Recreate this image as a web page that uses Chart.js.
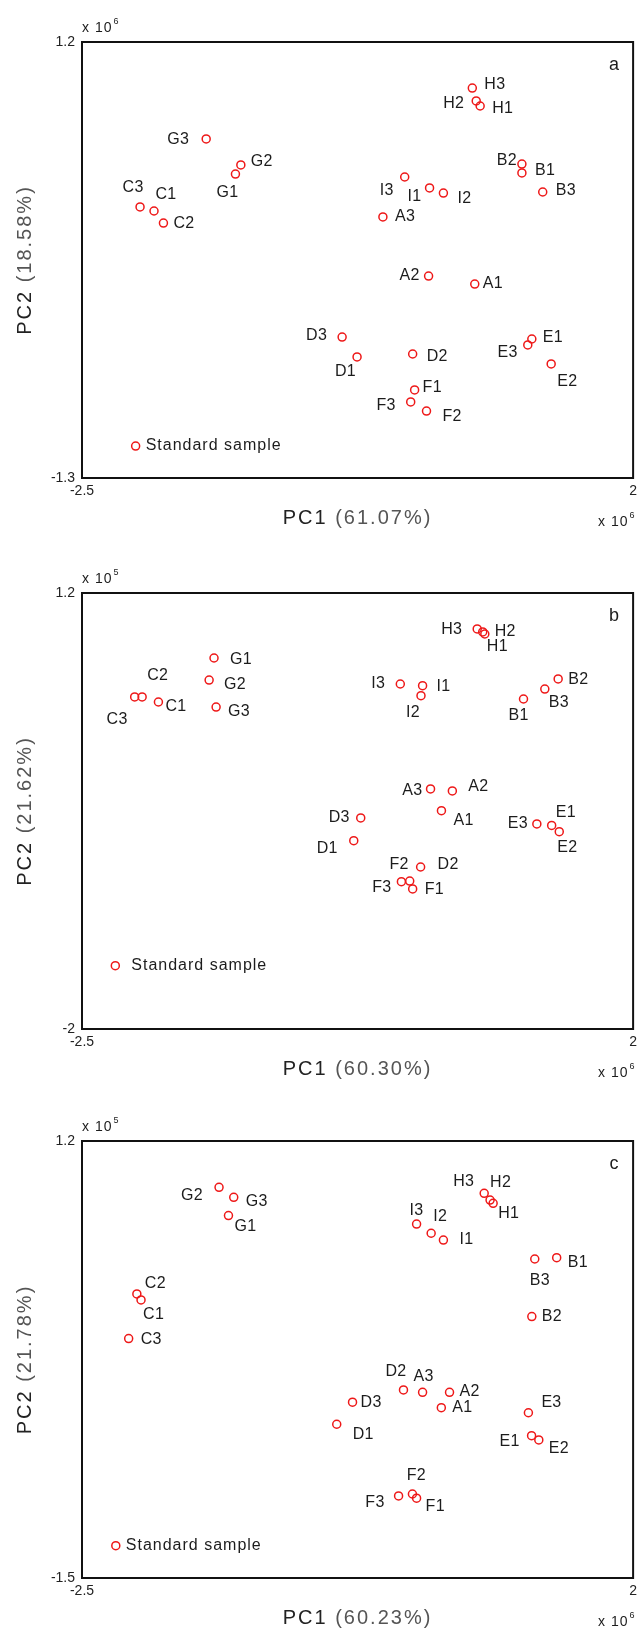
<!DOCTYPE html>
<html>
<head>
<meta charset="utf-8">
<script src="https://cdn.jsdelivr.net/npm/chart.js@4/dist/chart.umd.min.js"></script>
<style>
  html, body { margin: 0; padding: 0; background: #ffffff; }
  #wrap { position: relative; width: 642px; height: 1633px; background: #ffffff; }
  canvas { position: absolute; left: 0; }
</style>
</head>
<body>
<div id="wrap">
  <canvas id="pa" width="642" height="545" style="top:0px"></canvas>
  <canvas id="pb" width="642" height="550" style="top:545px"></canvas>
  <canvas id="pc" width="642" height="538" style="top:1095px"></canvas>
</div>
<script>
// ---------------- data ----------------
const sampleNames = ['A1','A2','A3','B1','B2','B3','C1','C2','C3','D1','D2','D3',
  'E1','E2','E3','F1','F2','F3','G1','G2','G3','H1','H2','H3','I1','I2','I3','Standard sample'];

// panel a  (PC1 x10^6, PC2 x10^6)
const pc1A = [0.707,0.330,-0.043, 1.092,1.092,1.262, -1.912,-1.835,-2.026, -0.254,0.200,-0.376,
  1.173,1.331,1.140, 0.216,0.313,0.184, -1.247,-1.203,-1.486, 0.751,0.719,0.687, 0.338,0.451,0.135, -2.062];
const pc2A = [-0.188,-0.142,0.197, 0.449,0.500,0.340, 0.231,0.162,0.254, -0.606,-0.589,-0.492,
  -0.503,-0.646,-0.537, -0.795,-0.916,-0.864, 0.443,0.495,0.644, 0.833,0.862,0.936, 0.363,0.334,0.426, -1.117];

// panel b
const pc1B = [0.435,0.524,0.346, 1.105,1.388,1.279, -1.876,-2.009,-2.070, -0.281,0.265,-0.224,
  1.335,1.397,1.214, 0.200,0.176,0.108, -1.422,-1.462,-1.405, 0.789,0.772,0.727, 0.281,0.268,0.099, -2.228];
const pc2B = [-0.398,-0.253,-0.238, 0.422,0.569,0.495, 0.400,0.437,0.437, -0.618,-0.811,-0.451,
  -0.506,-0.552,-0.495, -0.972,-0.914,-0.919, 0.723,0.561,0.363, 0.899,0.914,0.936, 0.520,0.446,0.532, -1.535];

// panel c
const pc1C = [0.434,0.501,0.281, 1.376,1.173,1.197, -2.018,-2.052,-2.119, -0.420,0.125,-0.291,
  1.171,1.230,1.145, 0.232,0.198,0.085, -1.304,-1.381,-1.261, 0.857,0.832,0.784, 0.451,0.351,0.232, -2.224];
const pc2C = [-0.448,-0.353,-0.353, 0.479,0.115,0.471, 0.218,0.255,-0.021, -0.550,-0.338,-0.414,
  -0.621,-0.647,-0.479, -1.007,-0.981,-0.993, 0.739,0.914,0.852, 0.815,0.835,0.877, 0.588,0.630,0.687, -1.300];

// tick values / labels
const xTickValues = [-2.5, 2];
const xTickLabels = ['-2.5', '2'];
const yTickValuesA = [-1.3, 1.2];  const yTickLabelsA = ['-1.3', '1.2'];
const yTickValuesB = [-2, 1.2];    const yTickLabelsB = ['-2', '1.2'];
const yTickValuesC = [-1.5, 1.2];  const yTickLabelsC = ['-1.5', '1.2'];

const xTitles = ['PC1 ', 'PC1 ', 'PC1 '];
const xPercents = ['(61.07%)', '(60.30%)', '(60.23%)'];
const yTitles = ['PC2 ', 'PC2 ', 'PC2 '];
const yPercents = ['(18.58%)', '(21.62%)', '(21.78%)'];
const panelLetters = ['a', 'b', 'c'];
const yExponents = ['6', '5', '5'];
const xExponent = '6';

// ---------------- label placement (annotation layout) ----------------
const placeA = {
  A1:[8,0,'left'], A2:[-9,0,'right'], A3:[12,0,'left'],
  B1:[13,-2,'left'], B2:[-5,-3,'right'], B3:[13,-1,'left'],
  C1:[12,-16,'center'], C2:[10,1,'left'], C3:[-7,-19,'center'],
  D1:[-1,15,'right'], D2:[14,3,'left'], D3:[-15,-1,'right'],
  E1:[11,-1,'left'], E2:[6,18,'left'], E3:[-10,8,'right'],
  F1:[8,-2,'left'], F2:[16,6,'left'], F3:[-15,4,'right'],
  G1:[3,19,'right'], G2:[10,-3,'left'], G3:[-17,1,'right'],
  H1:[12,3,'left'], H2:[-12,3,'right'], H3:[12,-3,'left'],
  I1:[-8,9,'right'], I2:[14,6,'left'], I3:[-11,14,'right'],
  'Standard sample':[10,0,'left']
};
const placeB = {
  A1:[12,10,'left'], A2:[16,-4,'left'], A3:[-8,2,'right'],
  B1:[-5,17,'center'], B2:[10,1,'left'], B3:[4,14,'left'],
  C1:[7,5,'left'], C2:[5,-21,'left'], C3:[-7,23,'right'],
  D1:[-16,8,'right'], D2:[17,-2,'left'], D3:[-11,0,'right'],
  E1:[4,-13,'left'], E2:[-2,16,'left'], E3:[-9,0,'right'],
  F1:[12,1,'left'], F2:[-1,-16,'right'], F3:[-10,6,'right'],
  G1:[16,2,'left'], G2:[15,5,'left'], G3:[12,5,'left'],
  H1:[2,13,'left'], H2:[12,0,'left'], H3:[-15,1,'right'],
  I1:[14,1,'left'], I2:[-8,17,'center'], I3:[-15,0,'right'],
  'Standard sample':[16,0,'left']
};
const placeC = {
  A1:[11,0,'left'], A2:[10,-1,'left'], A3:[1,-16,'center'],
  B1:[11,5,'left'], B2:[10,0,'left'], B3:[5,22,'center'],
  C1:[2,15,'left'], C2:[8,-10,'left'], C3:[12,1,'left'],
  D1:[16,10,'left'], D2:[3,-18,'right'], D3:[8,0,'left'],
  E1:[-12,6,'right'], E2:[10,9,'left'], E3:[13,-10,'left'],
  F1:[9,8,'left'], F2:[4,-18,'center'], F3:[-14,7,'right'],
  G1:[6,11,'left'], G2:[-16,8,'right'], G3:[12,4,'left'],
  H1:[5,10,'left'], H2:[0,-17,'left'], H3:[-10,-12,'right'],
  I1:[16,0,'left'], I2:[9,-17,'center'], I3:[0,-13,'center'],
  'Standard sample':[10,0,'left']
};

// ---------------- drawing ----------------
const FONT = '"Liberation Sans", Arial, Helvetica, sans-serif';
Chart.defaults.font.family = FONT;
const RED = 'rgb(238,24,24)';
const INK = '#1c1c1c';

function setSpacing(ctx, px) { if ('letterSpacing' in ctx) ctx.letterSpacing = px + 'px'; }

const decorPlugin = {
  id: 'decor',
  afterDraw(chart) {
    const o = chart.options.plugins.decor;
    const ctx = chart.ctx;
    const a = chart.chartArea;
    ctx.save();
    // frame
    ctx.strokeStyle = '#111';
    ctx.lineWidth = 2;
    ctx.strokeRect(a.left, a.top, a.right - a.left, a.bottom - a.top);

    // sample labels
    const xs = chart.scales.x, ys = chart.scales.y;
    ctx.fillStyle = INK;
    ctx.textBaseline = 'middle';
    sampleNames.forEach((nm, i) => {
      const p = o.place[nm];
      const px = xs.getPixelForValue(o.xv[i]);
      const py = ys.getPixelForValue(o.yv[i]);
      if (nm === 'Standard sample') { ctx.font = '16px ' + FONT; setSpacing(ctx, 1); }
      else { ctx.font = '16px ' + FONT; setSpacing(ctx, 0.3); }
      ctx.textAlign = p[2];
      ctx.fillText(nm, px + p[0], py + p[1]);
    });

    // panel letter
    setSpacing(ctx, 0);
    ctx.font = '18px ' + FONT;
    ctx.textAlign = 'center';
    ctx.fillText(o.letter, a.right - 19, a.top + 23);

    // y exponent (top-left)
    ctx.font = '14px ' + FONT; setSpacing(ctx, 1);
    ctx.textAlign = 'left';
    let w = ctx.measureText('x 10').width;
    ctx.fillText('x 10', a.left, a.top - 14);
    ctx.font = '9px ' + FONT; setSpacing(ctx, 0);
    ctx.fillText(o.yexp, a.left + w + 1, a.top - 20);

    // x exponent (bottom-right)
    ctx.font = '14px ' + FONT; setSpacing(ctx, 1);
    w = ctx.measureText('x 10').width;
    ctx.fillText('x 10', 598, a.bottom + 44);
    ctx.font = '9px ' + FONT; setSpacing(ctx, 0);
    ctx.fillText(xExponent, 598 + w + 1, a.bottom + 38);

    // x title
    ctx.font = '20px ' + FONT; setSpacing(ctx, 2);
    const w1 = ctx.measureText(o.xt).width, w2 = ctx.measureText(o.xp).width;
    let sx = (a.left + a.right) / 2 - (w1 + w2) / 2;
    ctx.textAlign = 'left';
    ctx.fillStyle = '#222';
    ctx.fillText(o.xt, sx, a.bottom + 40);
    ctx.fillStyle = '#555';
    ctx.fillText(o.xp, sx + w1, a.bottom + 40);

    // y title (rotated)
    const v1 = ctx.measureText(o.yt).width, v2 = ctx.measureText(o.yp).width;
    ctx.translate(25, (a.top + a.bottom) / 2);
    ctx.rotate(-Math.PI / 2);
    sx = -(v1 + v2) / 2;
    ctx.fillStyle = '#222';
    ctx.fillText(o.yt, sx, 0);
    ctx.fillStyle = '#555';
    ctx.fillText(o.yp, sx + v1, 0);
    ctx.restore();
  }
};

function makePanel(id, idx, xv, yv, ymin, ymax, yTickVals, yTickLbls, place, padTop, padBottom) {
  const pts = xv.map((x, i) => ({ x: x, y: yv[i] }));
  new Chart(document.getElementById(id), {
    type: 'scatter',
    data: { datasets: [{
      data: pts,
      pointStyle: 'circle',
      pointRadius: 4,
      pointHoverRadius: 4,
      pointBorderWidth: 1.5,
      pointBorderColor: RED,
      pointBackgroundColor: 'rgba(0,0,0,0)'
    }]},
    options: {
      responsive: false,
      animation: false,
      devicePixelRatio: 1,
      events: [],
      layout: { padding: { left: 0, right: 5, top: padTop, bottom: padBottom } },
      plugins: {
        legend: { display: false },
        tooltip: { enabled: false },
        decor: { xv: xv, yv: yv, place: place, letter: panelLetters[idx], yexp: yExponents[idx],
                 xt: xTitles[idx], xp: xPercents[idx], yt: yTitles[idx], yp: yPercents[idx] }
      },
      scales: {
        x: {
          type: 'linear', position: 'bottom', min: -2.5, max: 2,
          grid: { display: false, drawTicks: false },
          border: { display: false },
          ticks: { color: '#222', font: { size: 14 }, padding: 5, maxRotation: 0, autoSkip: false,
                   callback: (v, i) => xTickLabels[i] },
          afterBuildTicks: s => { s.ticks = xTickValues.map(v => ({ value: v })); },
          afterFit: s => { s.height = 30; }
        },
        y: {
          type: 'linear', position: 'left', min: ymin, max: ymax,
          grid: { display: false, drawTicks: false },
          border: { display: false },
          ticks: { color: '#222', font: { size: 14 }, padding: 7, autoSkip: false,
                   callback: (v, i) => yTickLbls[i] },
          afterBuildTicks: s => { s.ticks = yTickVals.map(v => ({ value: v })); },
          afterFit: s => { s.width = 82; }
        }
      }
    },
    plugins: [decorPlugin]
  });
}

// canvas a: 0..545 (area 42..478); b: 545..1095 (area 593..1029); c: 1095..1633 (area 1141..1578)
makePanel('pa', 0, pc1A, pc2A, -1.3, 1.2, yTickValuesA, yTickLabelsA, placeA, 42, 545 - 478 - 30);
makePanel('pb', 1, pc1B, pc2B, -2, 1.2, yTickValuesB, yTickLabelsB, placeB, 48, 550 - 484 - 30);
makePanel('pc', 2, pc1C, pc2C, -1.5, 1.2, yTickValuesC, yTickLabelsC, placeC, 46, 538 - 483 - 30);
</script>
</body>
</html>
